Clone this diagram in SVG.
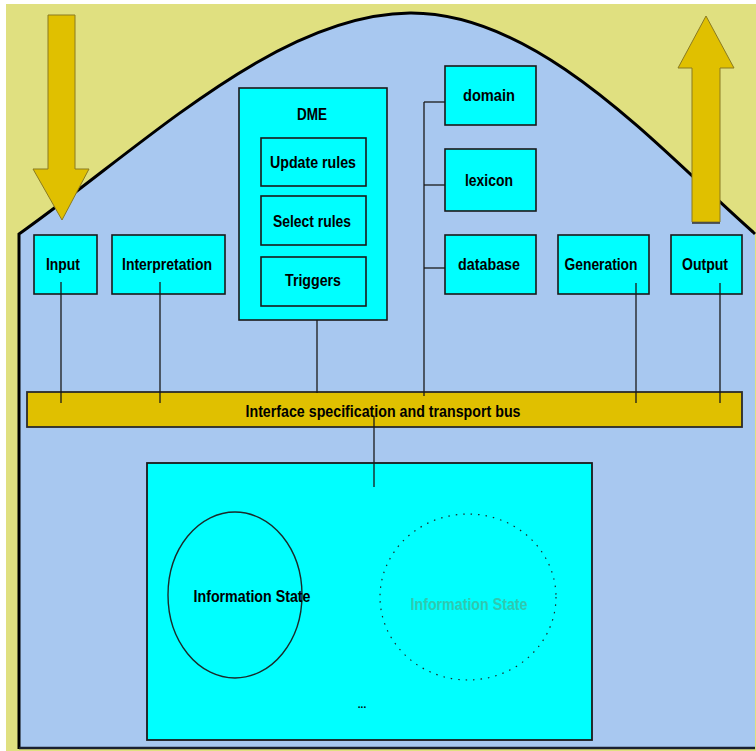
<svg xmlns="http://www.w3.org/2000/svg" width="756" height="751" viewBox="0 0 756 751">
  <defs>
    <style>
      .box { fill: #00ffff; stroke: #1a1a1a; stroke-width: 1.6; }
      .lbl { font-family: "Liberation Sans", Arial, sans-serif; font-size: 17px; fill: #000; text-anchor: middle; font-weight: bold; }
      .conn { stroke: #1a1a1a; stroke-width: 1.3; fill: none; }
      .arrow { fill: #e0c000; stroke: #8a7a20; stroke-width: 1; }
    </style>
  </defs>
  <rect x="0" y="0" width="756" height="751" fill="#ffffff"/>
  <rect x="6" y="4" width="750" height="747" fill="#e0e080"/>
  <g id="house">
    <path d="M19,749 L19,234 L26,229 C150,140 280,14 410,13 C540,12 660,150 753,232 L755,232 L755,749 Z" fill="#a8c8f0"/>
    <path d="M19,749 L19,234 L26,229 C150,140 280,14 410,13 C540,12 660,150 753,232 L755,234" fill="none" stroke="#000" stroke-width="3"/>
    <line x1="19" y1="748" x2="755" y2="748" stroke="#1a2030" stroke-width="2.5"/>
  </g>
  <g id="arrow-in">
    <polygon class="arrow" points="48,15 75,15 75,169 89,169 62,220 33,169 48,169"/>
  </g>
  <g id="arrow-out">
    <polygon class="arrow" points="706,16 734,68 720,68 720,222 692,222 692,68 678,68"/>
    <line x1="692" y1="223" x2="720" y2="223" stroke="#333" stroke-width="1.5"/>
  </g>
  <g id="bus">
    <rect x="27" y="392" width="715" height="35" fill="#e0c000" stroke="#2a2a2a" stroke-width="1.8"/>
    <text class="lbl" x="383" y="417" textLength="275" lengthAdjust="spacingAndGlyphs">Interface specification and transport bus</text>
  </g>
  <g id="input">
    <rect class="box" x="34" y="235" width="63" height="59"/>
    <text class="lbl" x="63" y="270" textLength="34" lengthAdjust="spacingAndGlyphs">Input</text>
  </g>
  <g id="interpretation">
    <rect class="box" x="112" y="235" width="113" height="59"/>
    <text class="lbl" x="167" y="270" textLength="90" lengthAdjust="spacingAndGlyphs">Interpretation</text>
  </g>
  <g id="dme">
    <rect class="box" x="239" y="88" width="148" height="232"/>
    <text class="lbl" x="312" y="120" textLength="30" lengthAdjust="spacingAndGlyphs">DME</text>
    <g id="update-rules">
      <rect class="box" x="261" y="138" width="105" height="48"/>
      <text class="lbl" x="313" y="168" textLength="86" lengthAdjust="spacingAndGlyphs">Update rules</text>
    </g>
    <g id="select-rules">
      <rect class="box" x="261" y="196" width="105" height="49"/>
      <text class="lbl" x="312" y="227" textLength="78" lengthAdjust="spacingAndGlyphs">Select rules</text>
    </g>
    <g id="triggers">
      <rect class="box" x="261" y="257" width="105" height="49"/>
      <text class="lbl" x="313" y="286" textLength="56" lengthAdjust="spacingAndGlyphs">Triggers</text>
    </g>
  </g>
  <g id="domain">
    <rect class="box" x="445" y="66" width="91" height="59"/>
    <text class="lbl" x="489" y="101" textLength="52" lengthAdjust="spacingAndGlyphs">domain</text>
  </g>
  <g id="lexicon">
    <rect class="box" x="445" y="149" width="91" height="62"/>
    <text class="lbl" x="489" y="186" textLength="48" lengthAdjust="spacingAndGlyphs">lexicon</text>
  </g>
  <g id="database">
    <rect class="box" x="445" y="235" width="91" height="59"/>
    <text class="lbl" x="489" y="270" textLength="62" lengthAdjust="spacingAndGlyphs">database</text>
  </g>
  <g id="generation">
    <rect class="box" x="558" y="235" width="91" height="59"/>
    <text class="lbl" x="601" y="270" textLength="73" lengthAdjust="spacingAndGlyphs">Generation</text>
  </g>
  <g id="output">
    <rect class="box" x="671" y="235" width="71" height="59"/>
    <text class="lbl" x="705" y="270" textLength="46" lengthAdjust="spacingAndGlyphs">Output</text>
  </g>
  <g id="information-store">
    <rect x="147" y="463" width="445" height="277" fill="#00ffff" stroke="#1a1a1a" stroke-width="1.8"/>
    <g id="information-state-1">
      <ellipse cx="235" cy="595" rx="67" ry="83" fill="none" stroke="#1a2a2a" stroke-width="1.4"/>
      <text class="lbl" x="252" y="602" textLength="117" lengthAdjust="spacingAndGlyphs">Information State</text>
    </g>
    <g id="information-state-2">
      <ellipse cx="468" cy="597" rx="88" ry="83" fill="none" stroke="#1a2a2a" stroke-width="1.2" stroke-dasharray="1.5 6"/>
      <text class="lbl" x="469" y="610" textLength="117" lengthAdjust="spacingAndGlyphs" style="fill:#30c8b0">Information State</text>
    </g>
    <text class="lbl" x="362" y="708" style="font-size:10px">...</text>
  </g>
  <g id="connectors">
    <line class="conn" x1="61" y1="282" x2="61" y2="403"/>
    <line class="conn" x1="160" y1="282" x2="160" y2="403"/>
    <line class="conn" x1="317" y1="320" x2="317" y2="393"/>
    <line class="conn" x1="424" y1="102" x2="424" y2="396"/>
    <line class="conn" x1="424" y1="102" x2="445" y2="102"/>
    <line class="conn" x1="424" y1="185" x2="445" y2="185"/>
    <line class="conn" x1="424" y1="268" x2="445" y2="268"/>
    <line class="conn" x1="636" y1="283" x2="636" y2="403"/>
    <line class="conn" x1="720" y1="283" x2="720" y2="403"/>
    <line class="conn" x1="374" y1="416" x2="374" y2="487"/>
  </g>
</svg>
